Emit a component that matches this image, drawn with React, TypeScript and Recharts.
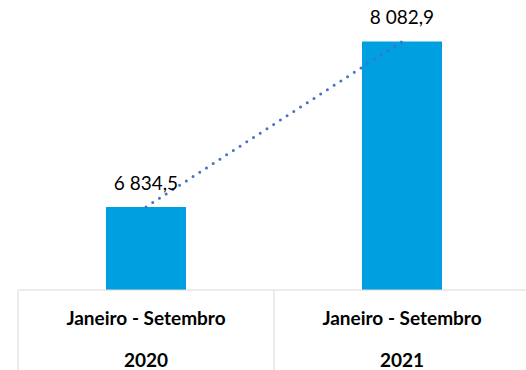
import { Bar, ComposedChart, LabelList, Line, XAxis, YAxis } from "recharts";

const periods = ["Janeiro - Setembro", "Janeiro - Setembro"];
const years = ["2020", "2021"];
const values = [6834.5, 8082.9];

const data = periods.map((period, i) => ({ period, year: years[i], key: `${period} ${years[i]}`, value: values[i] }));

const BAR_COLOR = "#009fdf";
const TREND_COLOR = "#4472c4";
const GRID_COLOR = "#d9d9d9";
const BAND_HALF = 128;
const FONT = "Lato, sans-serif";

function formatValue(value: number) {
  const [intPart, decPart] = value.toFixed(1).split(".");
  return `${intPart.replace(/\B(?=(\d{3})+(?!\d))/g, " ")},${decPart}`;
}

function CategoryTick(props: any) {
  const { x, y, index } = props;
  const row = data[index];
  return (
    <g>
      <line x1={x - BAND_HALF} y1={y} x2={x - BAND_HALF} y2={y + 80} stroke={GRID_COLOR} />
      {index === data.length - 1 && <line x1={x + BAND_HALF} y1={y} x2={x + BAND_HALF} y2={y + 80} stroke={GRID_COLOR} />}
      <text x={x} y={y + 35} textAnchor="middle" fontFamily={FONT} fontWeight="bold" fontSize={19} fill="#000">
        {row.period}
      </text>
      <text x={x} y={y + 77} textAnchor="middle" fontFamily={FONT} fontWeight="bold" fontSize={19} fill="#000">
        {row.year}
      </text>
    </g>
  );
}

export default function App() {
  return (
    <div style={{ position: "absolute", left: 0, top: 0, width: 526, height: 370, overflow: "hidden", background: "#fff" }}>
      <ComposedChart width={532} height={370} data={data} margin={{ top: 0, right: 2, bottom: 0, left: 18 }}>
        <XAxis
          dataKey="key"
          height={80}
          axisLine={{ stroke: GRID_COLOR }}
          tickLine={false}
          tickSize={0}
          tickMargin={0}
          tick={<CategoryTick />}
          interval={0}
        />
        <YAxis hide domain={[6208, 8396]} />
        <Bar dataKey="value" fill={BAR_COLOR} barSize={80} isAnimationActive={false}>
          <LabelList
            dataKey="value"
            position="top"
            offset={17}
            formatter={(v: any) => formatValue(Number(v))}
            style={{ fontFamily: FONT, fontSize: 19, fill: "#000" }}
          />
        </Bar>
        <Line
          type="linear"
          dataKey="value"
          stroke={TREND_COLOR}
          strokeWidth={3}
          strokeDasharray="0 8"
          strokeLinecap="round"
          dot={false}
          activeDot={false}
          isAnimationActive={false}
        />
      </ComposedChart>
    </div>
  );
}
